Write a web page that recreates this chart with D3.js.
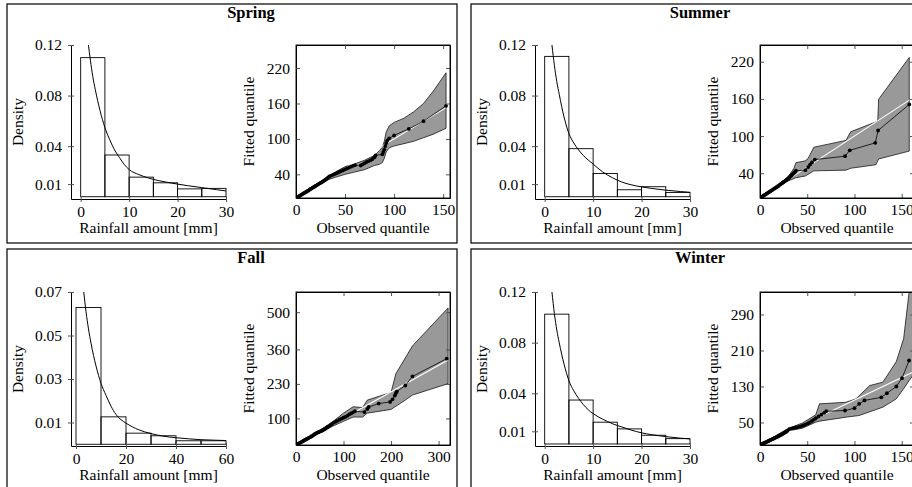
<!DOCTYPE html>
<html>
<head>
<meta charset="utf-8">
<script src="https://cdn.jsdelivr.net/npm/d3@7"></script>
<style>
body { margin: 0; background: #fff; }
text { font-family: "Liberation Serif", "DejaVu Serif", serif; }
</style>
</head>
<body>
<div id="chart"></div>
<script>
var seasons = ["Spring", "Summer", "Fall", "Winter"];

// histogram densities, bins start at 0
var springHist = [0.110, 0.033, 0.0155, 0.011, 0.0062, 0.0066];
var summerHist = [0.111, 0.038, 0.0184, 0.0055, 0.0079, 0.0034];
var fallHist = [0.0629, 0.0126, 0.0051, 0.0039, 0.0016, 0.0016];
var winterHist = [0.1025, 0.0347, 0.0172, 0.0119, 0.0069, 0.0042];
var binWidths = [5, 5, 10, 5];
var histXMax = [30, 30, 60, 30];
var histYTop = [0.12, 0.12, 0.07, 0.12];
var histYMin = [-0.0018, -0.0018, -0.0008, -0.0016];
var histXTicks = [[0, 10, 20, 30], [0, 10, 20, 30], [0, 20, 40, 60], [0, 10, 20, 30]];
var histYTicks = [[0.01, 0.04, 0.08, 0.12], [0.01, 0.04, 0.08, 0.12], [0.01, 0.03, 0.05, 0.07], [0.01, 0.04, 0.08, 0.12]];

// fitted density curves
var springCurveX = [1.6, 2, 2.5, 3, 4, 5, 6, 7, 8, 9, 10, 12, 14, 16, 18, 20, 22, 25, 28, 30];
var springCurveY = [0.12, 0.108, 0.095, 0.085, 0.068, 0.0547, 0.045, 0.037, 0.031, 0.0255, 0.0215, 0.0175, 0.0148, 0.0128, 0.0113, 0.0100, 0.0088, 0.0072, 0.0056, 0.0046];
var summerCurveX = [1.5, 2, 2.5, 3, 4, 5, 6, 7, 8, 9, 10, 12, 14, 16, 18, 20, 22, 25, 28, 30];
var summerCurveY = [0.12, 0.104, 0.091, 0.081, 0.063, 0.050, 0.0425, 0.037, 0.0325, 0.029, 0.0258, 0.0195, 0.0150, 0.0115, 0.0093, 0.0078, 0.0066, 0.0052, 0.0041, 0.0035];
var fallCurveX = [3.1, 4, 5, 6, 8, 10, 12, 14, 16, 18, 20, 25, 30, 35, 40, 45, 50, 55, 60];
var fallCurveY = [0.07, 0.061, 0.053, 0.0465, 0.036, 0.028, 0.0225, 0.0175, 0.0137, 0.0113, 0.0097, 0.0067, 0.0049, 0.0037, 0.0030, 0.0025, 0.0021, 0.0019, 0.0017];
var winterCurveX = [1.5, 2, 2.5, 3, 4, 5, 6, 7, 8, 9, 10, 12, 14, 16, 18, 20, 22, 25, 28, 30];
var winterCurveY = [0.12, 0.103, 0.090, 0.080, 0.063, 0.050, 0.042, 0.036, 0.031, 0.027, 0.024, 0.0195, 0.0160, 0.0133, 0.0108, 0.0088, 0.0074, 0.0058, 0.0046, 0.0040];

// QQ points: observed vs fitted quantiles
var springObs = [0,1,2,3,4,5,6,7,8,9,10,11,12,13,14,15,16,17,18,19,20,21,22,23,24,25,26,27,28,29,30,31,32,33,34,36,38,40,42,44,46,48,50,52,54,56,58,60,66,68,70,72,74,76,78,80,81,88,89,90,91,92,93,95,100,115,130,153];
var springFit = [0,1,2,3,4,5,6,7,8,9,10,11,12,13,14.4,15.4,16.4,17.4,18.4,19.5,20.5,21.5,22.5,23.5,24.6,25.6,26.6,27.6,28.7,29.8,31,32.2,33.6,35,36.4,38,39.5,41,42.5,44,45.5,47,48.5,50,51.5,53,54.5,55.5,55,57,59,61,62.5,64,66,69,72,74,78,82,88,93,97,101,106,117,130,156];
var summerObs = [0,1,2,3,4,5,6,7,8,9,10,11,12,13,14,15,16,17,18,19,20,21,22,23,24,25,26,27,28,29,30,31,32,33,34,35,36,37,38,48,51,53,55,58,90,95,122,125,158];
var summerFit = [0,1,2,3,4,5,6,7,8,9,10,11,12,13,14,15,16,17,18,19,20,21.5,22.5,23.6,24.7,25.8,27,28.2,29.4,30.6,31.8,33.2,34.6,36,37.5,39,40.5,42,44,45,50,54,57.5,62,67.5,77,89,109,151];
var fallObs = [0,2,4,6,8,10,12,14,16,18,20,22,24,26,28,30,32,34,36,38,40,42,44,46,48,50,52,54,56,58,60,62,64,66,68,72,76,80,84,88,92,96,100,104,108,112,116,120,124,144,150,153,174,198,203,208,210,212,230,245,317];
var fallFit = [0,2,4,6,8,10,12,14,16,18,20,22,24,26,28,30,32,34,36.5,39,41.5,44,46,47.5,49,50.5,52,53.5,55.5,57.5,59.5,62,64.5,67,69.5,74,79,84,88,92,96,99,103,106,110,115,119,123,127,124,136,143,156,162,172,186,195,201,224,258,325];
var winterObs = [0,1,2,3,4,5,6,7,8,9,10,11,12,13,14,15,16,17,18,19,20,21,22,23,24,25,26,27,28,29,31,33,35,37,39,41,43,45,47,49,51,53,55,57,59,62,65,68,70,90,100,105,110.6,128.4,134.3,144.3,150.3,157.8];
var winterFit = [0,1,2,3,4,5,6,7,8,9,10,11,12,13,14,15,16,17,18,19,20,21.2,22.4,23.6,24.8,26,27.3,28.6,30,31.5,35,36.5,37.5,38.5,39.5,40.5,41.5,43,44.5,46.5,48.5,51,53.5,56.5,59.5,63.5,67.5,71.5,75,76.7,81.8,91.5,99,106,115,130,148.5,187.8];

// confidence bands (upper and lower edges)
var springUpX = [0,10,20,30,33,40,50,60,70,80,85,88,90,92,95,100,110,120,130,140,153];
var springUpY = [0,10.6,21,31.5,37,44,53,58,64,72,80,86,96,112,122,128,135,146,160,181,212];
var springLoX = [0,10,20,30,33,40,50,60,70,80,85,88,90,92,95,100,110,120,130,140,153];
var springLoY = [0,9.4,19,28.5,31,35,40,44,48,55,57,60,67,78,85,88,92,96,102,108,118];
var summerUpX = [0,20,30,36,38,48,51,57,91,96,124.6,125.6,158];
var summerUpY = [0,21.5,35,48,57,60,64,82,93,107,124,159.5,227];
var summerLoX = [0,20,30,38,48,57,91,96,122.6,125.6,158];
var summerLoY = [0,19,27.5,32.7,35.5,43.8,45,48,53.7,63,75.7];
var fallUpX = [0,40,60,80,100,120,140,150,200,210,245,320];
var fallUpY = [0,44,67,92,120,144,141,169,198,268,373,516];
var fallLoX = [0,40,60,80,100,120,140,150,200,230,245,320];
var fallLoY = [0,37,55,73,89,105,105,120,134,169,188,231];
var winterUpX = [0,29,45,59,63,91,101.6,116,130,144.3,152,157.8,162];
var winterUpY = [0,36,49,67,91.5,95,102.6,132,139.6,185.5,236,339.6,420];
var winterLoX = [0,29,45,59,63,91,105,130,144.3,152,157.8,162];
var winterLoY = [0,31,37.4,50.7,53,61.8,65.5,84,102.6,125,143,155];

var qqXMax = [157, 163, 324, 163];
var qqYMax = [259, 247, 576, 340];
var qqXTicks = [[0, 50, 100, 150], [0, 50, 100, 150], [0, 100, 200, 300], [0, 50, 100, 150]];
var qqYTicks = [[40, 100, 160, 220], [40, 100, 160, 220], [100, 230, 360, 500], [50, 130, 210, 290]];

var hists = [springHist, summerHist, fallHist, winterHist];
var curvesX = [springCurveX, summerCurveX, fallCurveX, winterCurveX];
var curvesY = [springCurveY, summerCurveY, fallCurveY, winterCurveY];
var obs = [springObs, summerObs, fallObs, winterObs];
var fit = [springFit, summerFit, fallFit, winterFit];
var upX = [springUpX, summerUpX, fallUpX, winterUpX];
var upY = [springUpY, summerUpY, fallUpY, winterUpY];
var loX = [springLoX, summerLoX, fallLoX, winterLoX];
var loY = [springLoY, summerLoY, fallLoY, winterLoY];

var width = 912, height = 487;
var fs = "15.5px";
var titleX = [251, 700];

var svg = d3.select("#chart")
  .append("svg")
  .attr("width", width)
  .attr("height", height);

function styleAxis(g) {
  g.selectAll("text")
    .style("font-family", '"Liberation Serif", "DejaVu Serif", serif')
    .style("font-size", fs)
    .attr("fill", "#000");
}

function drawPanel(name, i) {
  var col = i % 2, row = Math.floor(i / 2);
  var dx = col * 464, dy = row * 247, dyBox = row * 245;

  // panel frame + title
  svg.append("rect")
    .attr("x", 7 + dx).attr("y", 4 + dyBox)
    .attr("width", 450).attr("height", 239)
    .attr("fill", "none").attr("stroke", "#111").attr("stroke-width", 1.3);
  svg.append("text")
    .attr("x", titleX[col]).attr("y", 18 + dyBox)
    .attr("text-anchor", "middle")
    .style("font-weight", "bold").style("font-size", "16.5px")
    .text(name);

  // ---------- histogram ----------
  var x = d3.scaleLinear().domain([-2, histXMax[i]]).range([71 + dx, 226 + dx]);
  var y = d3.scaleLinear().domain([histYMin[i], histYTop[i]]).range([199 + dy, 45 + dy]);
  var bw = binWidths[i];

  svg.append("g")
    .selectAll("rect")
    .data(hists[i])
    .enter()
    .append("rect")
      .attr("x", function(d, k) { return x(k * bw); })
      .attr("y", function(d) { return y(d); })
      .attr("width", x(bw) - x(0))
      .attr("height", function(d) { return y(0) - y(d); })
      .attr("fill", "none")
      .attr("stroke", "#000")
      .attr("stroke-width", 0.9);

  var cpts = curvesX[i].map(function(v, k) { return [v, curvesY[i][k]]; });
  svg.append("path")
    .datum(cpts)
    .attr("fill", "none")
    .attr("stroke", "#000")
    .attr("stroke-width", 1)
    .attr("d", d3.line().curve(d3.curveMonotoneX)
      .x(function(d) { return x(d[0]); })
      .y(function(d) { return y(d[1]); }));

  var yAx = svg.append("g")
    .attr("transform", "translate(" + (71 + dx) + ",0)")
    .call(d3.axisLeft(y).tickValues(histYTicks[i]).tickFormat(d3.format(".2f"))
      .tickSizeInner(3).tickSizeOuter(0).tickPadding(6));
  yAx.selectAll(".tick line").attr("x1", 3);
  styleAxis(yAx);

  var xAx = svg.append("g")
    .attr("transform", "translate(0," + (199 + dy) + ")")
    .call(d3.axisBottom(x).tickValues(histXTicks[i]).tickFormat(d3.format("d"))
      .tickSizeInner(3).tickSizeOuter(0).tickPadding(4));
  xAx.selectAll(".tick line").attr("y1", -3);
  styleAxis(xAx);

  svg.append("text")
    .attr("transform", "translate(" + (22.5 + dx) + "," + (122 + dy) + ") rotate(-90)")
    .attr("text-anchor", "middle")
    .style("font-size", fs)
    .text("Density");
  svg.append("text")
    .attr("x", 148.5 + dx).attr("y", 233 + dy)
    .attr("text-anchor", "middle")
    .style("font-size", fs)
    .text("Rainfall amount [mm]");

  // ---------- QQ plot ----------
  var qx = d3.scaleLinear().domain([0, qqXMax[i]]).range([296 + dx, 450 + dx]);
  var qy = d3.scaleLinear().domain([0, qqYMax[i]]).range([198 + dy, 45 + dy]);

  var clipId = "clip" + i;
  svg.append("clipPath").attr("id", clipId)
    .append("rect")
      .attr("x", 296 + dx).attr("y", 45 + dy)
      .attr("width", 154).attr("height", 153);

  var plot = svg.append("g").attr("clip-path", "url(#" + clipId + ")");

  var up = upX[i].map(function(v, k) { return [v, upY[i][k]]; });
  var lo = loX[i].map(function(v, k) { return [v, loY[i][k]]; }).reverse();
  var band = up.concat(lo);
  var qline = d3.line()
    .x(function(d) { return qx(d[0]); })
    .y(function(d) { return qy(d[1]); });

  plot.append("path")
    .datum(band)
    .attr("d", qline(band) + "Z")
    .attr("fill", "#999")
    .attr("stroke", "#000")
    .attr("stroke-width", 0.7);

  var xEnd = upX[i][upX[i].length - 1];
  plot.append("path")
    .datum([[0, 0], [xEnd, xEnd]])
    .attr("d", qline)
    .attr("fill", "none")
    .attr("stroke", "#fff")
    .attr("stroke-width", 1.1);

  var pts = obs[i].map(function(v, k) { return [v, fit[i][k]]; });
  plot.append("path")
    .datum(pts)
    .attr("d", qline)
    .attr("fill", "none")
    .attr("stroke", "#000")
    .attr("stroke-width", 0.8);
  plot.selectAll("circle")
    .data(pts)
    .enter()
    .append("circle")
      .attr("cx", function(d) { return qx(d[0]); })
      .attr("cy", function(d) { return qy(d[1]); })
      .attr("r", 1.9)
      .attr("fill", "#000");

  // frame with inward ticks on all sides
  var bx = svg.append("g")
    .attr("transform", "translate(0," + (198 + dy) + ")")
    .call(d3.axisBottom(qx).tickValues(qqXTicks[i]).tickFormat(d3.format("d"))
      .tickSizeInner(-4).tickSizeOuter(0).tickPadding(6));
  styleAxis(bx);
  svg.append("g")
    .attr("transform", "translate(0," + (45 + dy) + ")")
    .call(d3.axisTop(qx).tickValues(qqXTicks[i]).tickFormat("")
      .tickSizeInner(-4).tickSizeOuter(0));
  var ly = svg.append("g")
    .attr("transform", "translate(" + (296 + dx) + ",0)")
    .call(d3.axisLeft(qy).tickValues(qqYTicks[i]).tickFormat(d3.format("d"))
      .tickSizeInner(-4).tickSizeOuter(0).tickPadding(6));
  styleAxis(ly);
  svg.append("g")
    .attr("transform", "translate(" + (450 + dx) + ",0)")
    .call(d3.axisRight(qy).tickValues(qqYTicks[i]).tickFormat("")
      .tickSizeInner(-4).tickSizeOuter(0));
  svg.selectAll(".tick line").attr("stroke", "#555");

  svg.append("rect")
    .attr("x", 296 + dx).attr("y", 45 + dy)
    .attr("width", 154).attr("height", 153)
    .attr("fill", "none").attr("stroke", "#000").attr("stroke-width", 0.9);

  svg.append("text")
    .attr("transform", "translate(" + (253.5 + dx) + "," + (121.5 + dy) + ") rotate(-90)")
    .attr("text-anchor", "middle")
    .style("font-size", fs)
    .text("Fitted quantile");
  svg.append("text")
    .attr("x", 373 + dx).attr("y", 233 + dy)
    .attr("text-anchor", "middle")
    .style("font-size", fs)
    .text("Observed quantile");
}

seasons.forEach(drawPanel);
</script>
</body>
</html>
